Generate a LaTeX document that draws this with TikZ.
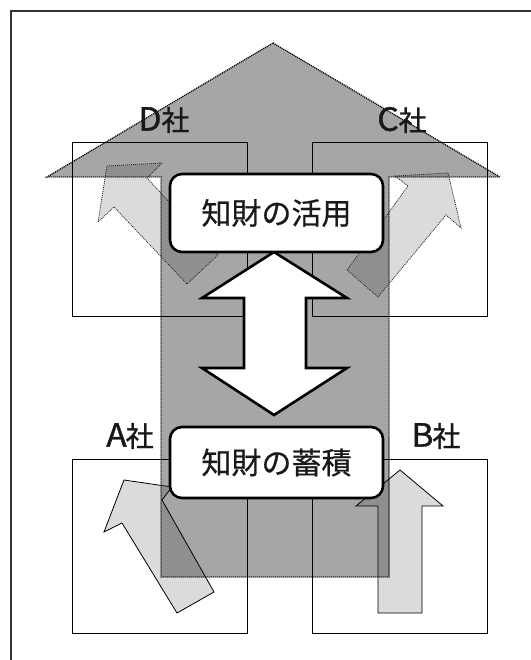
\documentclass[tikz,border=0pt]{standalone}
\usepackage{fontspec}
\newfontfamily\jp[FakeBold=0.7]{Noto Sans CJK JP}
\newfontfamily\jpl[FakeBold=1.1]{Noto Sans CJK JP}
\newcommand\lt[1]{{\fontsize{32}{30}\selectfont\scalebox{1.05}[1]{#1}}}
\begin{document}
\begin{tikzpicture}[x=1pt,y=-1pt,
  cbox/.style={draw=black,line width=0.9pt,inner sep=0pt,minimum width=175pt,minimum height=174pt},
  kbox/.style={draw=black,fill=white,line width=2.6pt,rounded corners=12pt,inner sep=0pt,minimum width=213pt,font=\jp\fontsize{30}{32}\selectfont,text=black!90},
  lab/.style={inner sep=0pt,font=\jpl\fontsize{28}{30}\selectfont,text=black!90},
  bigfill/.style={fill=black!35},
  lightfill/.style={fill=black!14},
  ovlfill/.style={fill=black!44},
  dots/.style={draw=black,line width=1.3pt,dash pattern=on 1.1pt off 0.9pt},
  fdots/.style={draw=black!85,line width=0.8pt,dash pattern=on 1pt off 1pt},
  solidl/.style={draw=black,line width=0.8pt}
]
\useasboundingbox (0,0) rectangle (530,660);
\fill[white] (0,0) rectangle (530,660);
% frame
\draw[line width=2pt,black!80,line cap=rect] (11,660) -- (11,11) -- (530,11);

\def\bigarrow{(273,43) -- (500,177) -- (389,177) -- (389,577) -- (161,577) -- (161,177) -- (47,177) -- cycle}
\def\arrA{(124,480) -- (172,487) -- (162,500) -- (214,592) -- (177,613) -- (122,523) -- (104,532) -- cycle}
\def\arrB{(400,470) -- (443,506) -- (422,506) -- (422,613) -- (378,613) -- (378,506) -- (356,506) -- cycle}
\def\arrD{(107,166) -- (162,163) -- (147,178) -- (218,255) -- (187,284) -- (114,207) -- (98,222) -- cycle}
\def\arrC{(448,173) -- (461,228) -- (446,215) -- (378,297) -- (347,270) -- (408,186) -- (395,176) -- cycle}

% fills
\fill[bigfill] \bigarrow;
\fill[lightfill] \arrA;
\fill[lightfill] \arrB;
\fill[lightfill] \arrC;
\fill[lightfill] \arrD;
\begin{scope}
  \clip \bigarrow;
  \fill[ovlfill] \arrA;
  \fill[ovlfill] \arrB;
  \fill[ovlfill] \arrC;
  \fill[ovlfill] \arrD;
\end{scope}

% company boxes
\node[cbox] (dbox) at (159.5,229) {};
\node[cbox] (cbox) at (400,229) {};
\node[cbox] (abox) at (159.5,546) {};
\node[cbox] (bbox) at (400,546) {};

% outlines
\draw[dots] \bigarrow;
\draw[fdots] \arrD;
\draw[fdots] \arrC;
\draw[solidl] \arrA;
\draw[solidl] \arrB;

% double arrow
\draw[line width=2.6pt,fill=white,line join=miter]
  (274,252) -- (347,298) -- (306,298) -- (306,368) -- (347,368) -- (274,415)
  -- (202,368) -- (244,368) -- (244,298) -- (202,298) -- cycle;

% central nodes
\node[kbox,minimum height=78pt] (use) at (276.5,213) {知財の活用};
\node[kbox,minimum height=71pt] (acc) at (276.5,462.5) {知財の蓄積};

% labels
\node[lab] (dL) at (164,120) {\lt{D}社};
\node[lab] (cL) at (402,120) {\lt{C}社};
\node[lab] (aL) at (130,436) {\lt{A}\kern-1pt社};
\node[lab] (bL) at (436,436) {\lt{B}\kern-1pt社};
\end{tikzpicture}
\end{document}
